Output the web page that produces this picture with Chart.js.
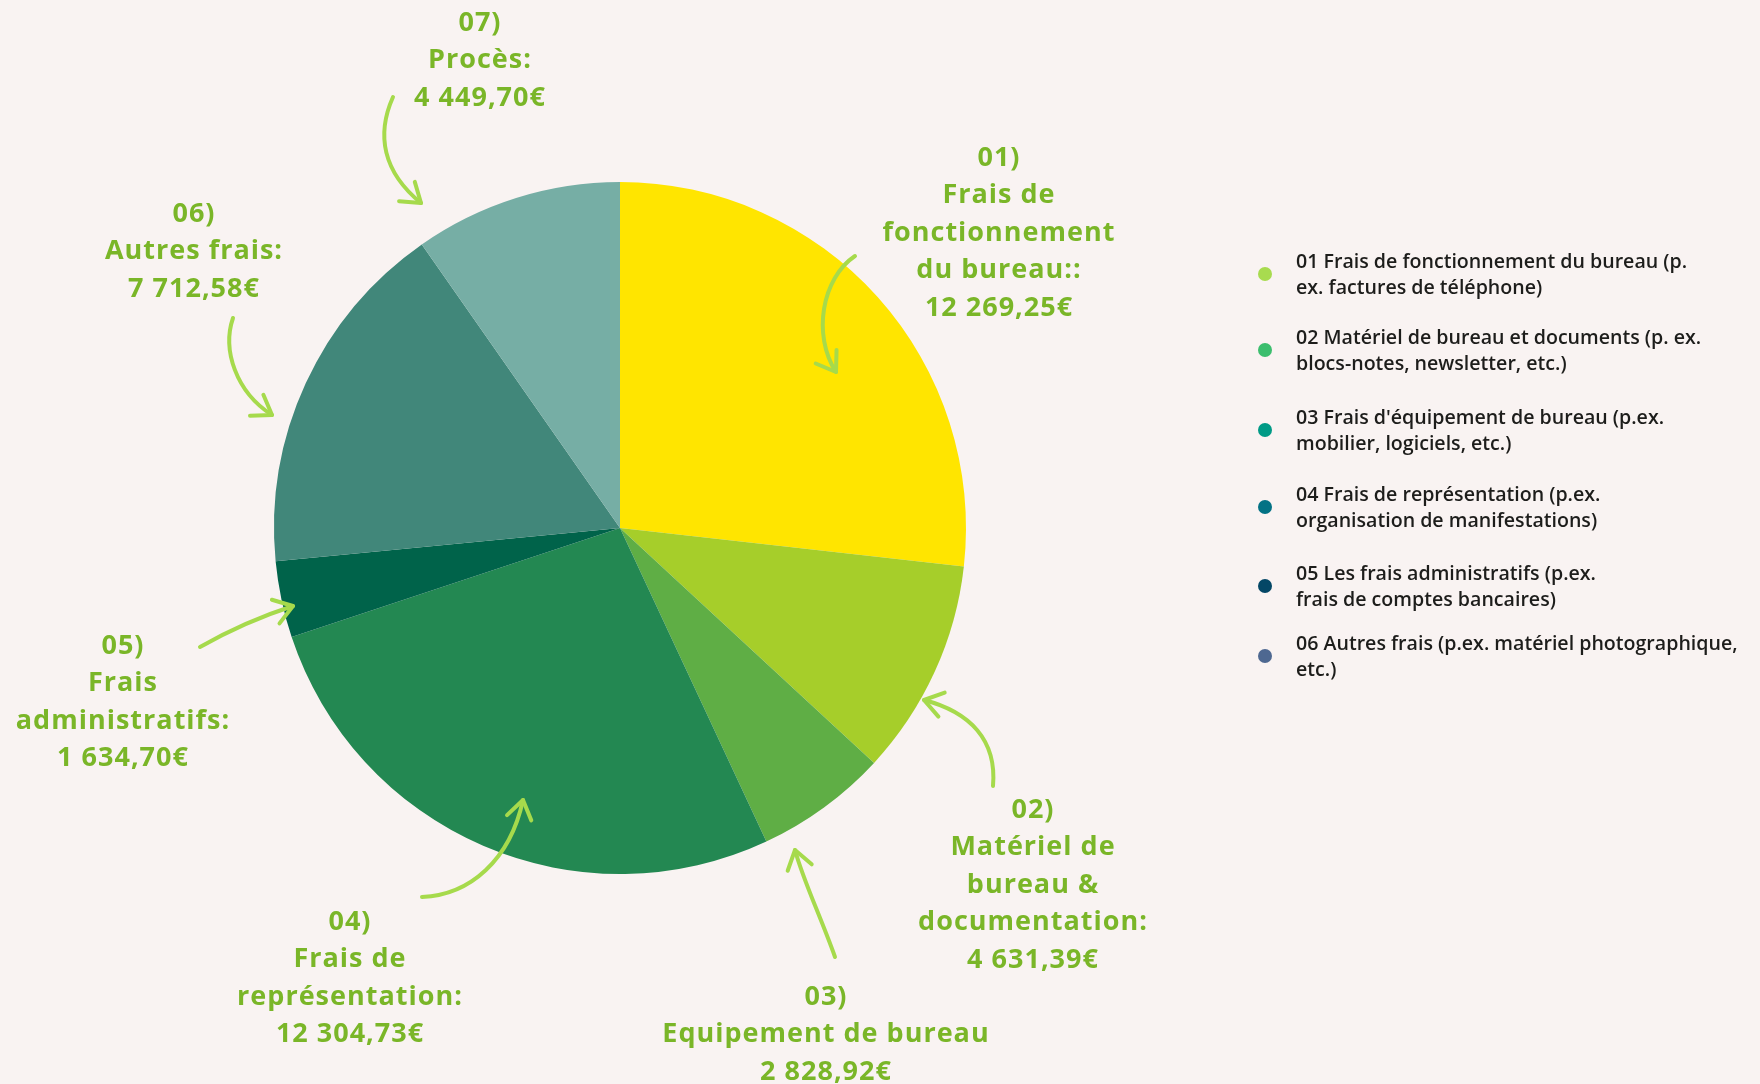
<!DOCTYPE html>
<html><head><meta charset="utf-8">
<script src="https://cdn.jsdelivr.net/npm/chart.js@4"></script>
<style>html,body{margin:0;padding:0;background:#f9f3f2;overflow:hidden}canvas{display:block}</style>
</head><body>
<canvas id="c" width="1760" height="1084"></canvas>
<script>
// ---- data ----
const categories = ['01', '02', '03', '04', '05', '06', '07'];
const labelTitles = [
  ['01)', 'Frais de', 'fonctionnement', 'du bureau::'],
  ['02)', 'Matériel de', 'bureau &', 'documentation:'],
  ['03)', 'Equipement de bureau'],
  ['04)', 'Frais de', 'représentation:'],
  ['05)', 'Frais', 'administratifs:'],
  ['06)', 'Autres frais:'],
  ['07)', 'Procès:']
];
const values = [12269.25, 4631.39, 2828.92, 12304.73, 1634.70, 7712.58, 4449.70];
const sliceColors = ['#FFE500', '#A6CE2A', '#5FAE45', '#238852', '#00634A', '#41877A', '#76AEA5'];
const legendLabels = [
  ['01 Frais de fonctionnement du bureau (p.', 'ex. factures de téléphone)'],
  ['02 Matériel de bureau et documents (p. ex.', 'blocs-notes, newsletter, etc.)'],
  ["03 Frais d'équipement de bureau (p.ex.", 'mobilier, logiciels, etc.)'],
  ['04 Frais de représentation (p.ex.', 'organisation de manifestations)'],
  ['05 Les frais administratifs (p.ex.', 'frais de comptes bancaires)'],
  ['06 Autres frais (p.ex. matériel photographique,', 'etc.)']
];
const legendColors = ['#A8DB4F', '#3CBE6E', '#009A86', '#037285', '#044766', '#4E6891'];

// ---- layout (annotation placement only) ----
const labelPos = [[999,158],[1033,810],[826,997],[350,922],[123,646],[194,214],[480,23]];
const arrows = [
  [[855,256],[822,278],[812,335],[836,372]],
  [[993,786],[997,740],[970,712],[924,700]],
  [[835,957],[820,915],[803,880],[795,850]],
  [[422,897],[470,895],[510,860],[523,800]],
  [[200,647],[230,630],[265,615],[293,606]],
  [[233,318],[222,350],[236,392],[272,415]],
  [[393,97],[376,135],[383,172],[421,203]]
];
const legendY = [262, 338, 418, 495, 574, 644];

function fmt(v) {
  const parts = v.toFixed(2).split('.');
  const int = parts[0].replace(/\B(?=(\d{3})+(?!\d))/g, ' ');
  return int + ',' + parts[1] + '€';
}

const annotations = {
  id: 'annotations',
  afterDraw(chart) {
    const ctx = chart.ctx;
    ctx.save();
    // arrows
    ctx.strokeStyle = '#A6DA4C';
    ctx.lineWidth = 4;
    ctx.lineCap = 'round';
    ctx.lineJoin = 'round';
    arrows.forEach(a => {
      ctx.beginPath();
      ctx.moveTo(a[0][0], a[0][1]);
      ctx.bezierCurveTo(a[1][0], a[1][1], a[2][0], a[2][1], a[3][0], a[3][1]);
      ctx.stroke();
      const dx = a[3][0] - a[2][0], dy = a[3][1] - a[2][1];
      const ang = Math.atan2(dy, dx);
      const L = 22;
      ctx.beginPath();
      ctx.moveTo(a[3][0] - L * Math.cos(ang - 0.6), a[3][1] - L * Math.sin(ang - 0.6));
      ctx.lineTo(a[3][0], a[3][1]);
      ctx.lineTo(a[3][0] - L * Math.cos(ang + 0.6), a[3][1] - L * Math.sin(ang + 0.6));
      ctx.stroke();
    });
    // labels
    ctx.fillStyle = '#7AB628';
    ctx.font = 'bold 27px "Open Sans"';
    ctx.letterSpacing = '1px';
    ctx.textAlign = 'center';
    ctx.textBaseline = 'middle';
    labelTitles.forEach((lines, i) => {
      const all = lines.concat([fmt(values[i])]);
      all.forEach((t, j) => {
        ctx.fillText(t, labelPos[i][0], labelPos[i][1] + j * 37.5);
      });
    });
    // legend
    ctx.letterSpacing = '0px';
    ctx.textAlign = 'left';
    ctx.font = '600 19.6px "Open Sans"';
    legendLabels.forEach((lines, i) => {
      const y = legendY[i];
      ctx.fillStyle = legendColors[i];
      ctx.beginPath();
      ctx.arc(1265, y + 12, 7, 0, Math.PI * 2);
      ctx.fill();
      ctx.fillStyle = '#1D1D1B';
      lines.forEach((t, j) => ctx.fillText(t, 1296, y + j * 26));
    });
    ctx.restore();
  }
};

new Chart(document.getElementById('c'), {
  type: 'pie',
  data: {
    labels: categories,
    datasets: [{ data: values, backgroundColor: sliceColors, borderWidth: 0 }]
  },
  options: {
    responsive: false,
    animation: false,
    layout: { padding: { left: 274, right: 794, top: 182, bottom: 210 } },
    plugins: { legend: { display: false }, tooltip: { enabled: false } }
  },
  plugins: [annotations]
});
</script>
</body></html>
